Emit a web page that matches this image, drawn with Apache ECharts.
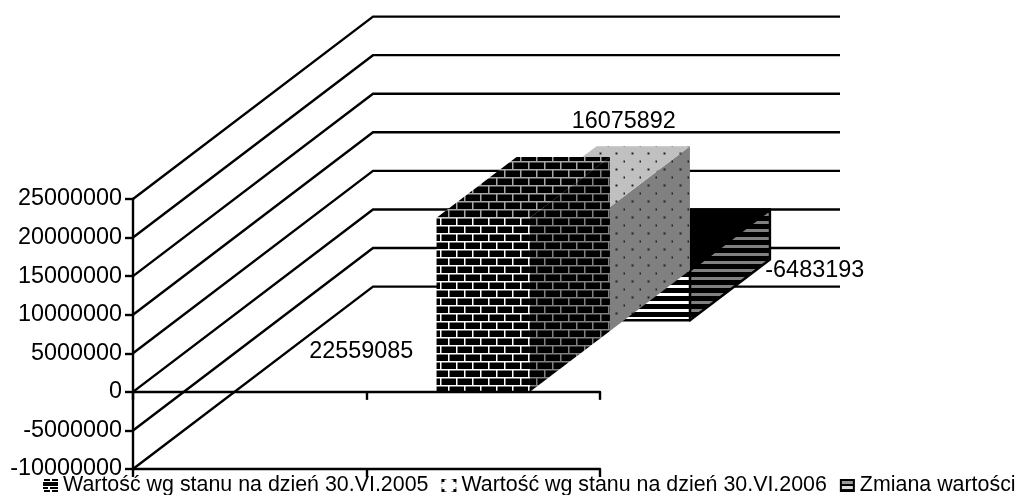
<!DOCTYPE html>
<html>
<head>
<meta charset="utf-8">
<style>html,body{margin:0;padding:0;background:#fff}#c{width:1016px;height:495px}</style>
<script src="https://cdn.jsdelivr.net/npm/echarts@6/dist/echarts.min.js"></script>
</head>
<body>
<div id="c"></div>
<script>
const categories = ['', ' '];
const seriesNames = [
  'Wartość wg stanu na dzień 30.VI.2005',
  'Wartość wg stanu na dzień 30.VI.2006',
  'Zmiana wartości'
];
const values2005 = [22559085];
const values2006 = [16075892];
const valuesChange = [-6483193];
const tickValues = [-10000000, -5000000, 0, 5000000, 10000000, 15000000, 20000000, 25000000];

const FONT = '"Liberation Sans", Arial, sans-serif';
const FS = 23.4;
const LEGEND_FS = 21.4;
const LW = 2.4;
const unitX = 80, unitY = -60.8;
const labelOffsets = [[-122, -40], [60.5, -210], [171.5, 0]];

function makeCanvas(w, h, draw) {
  const c = document.createElement('canvas');
  c.width = w; c.height = h;
  draw(c.getContext('2d'));
  return { image: c, repeat: 'repeat' };
}
function brick(mortar) {
  return makeCanvas(16, 16, g => {
    g.fillStyle = '#000'; g.fillRect(0, 0, 16, 16);
    g.fillStyle = mortar;
    g.fillRect(0, 1, 16, 1.5); g.fillRect(0, 9, 16, 1.5);
    g.fillRect(0, 1, 1.5, 8); g.fillRect(8, 9, 1.5, 7);
    g.fillRect(8, 0, 1.5, 1);
  });
}
function dots(bg) {
  return makeCanvas(16, 16, g => {
    g.fillStyle = bg; g.fillRect(0, 0, 16, 16);
    g.fillStyle = '#222';
    g.fillRect(7.5, 8.5, 2, 2); g.fillRect(15.5, 0.5, 1, 2); g.fillRect(0, 0.5, 1, 2);
  });
}
function stripes(light) {
  return makeCanvas(8, 8, g => {
    g.fillStyle = '#000'; g.fillRect(0, 0, 8, 8);
    g.fillStyle = light; g.fillRect(0, 5, 8, 3);
  });
}
const faces = [
  { front: brick('#fff'), side: brick('#808080'), top: brick('#a8a8a8'), stroke: null },
  { front: dots('#fff'), side: dots('#808080'), top: dots('#c0c0c0'), stroke: null },
  { front: stripes('#fff'), side: stripes('#808080'), top: '#000', stroke: '#000' }
];

const iconBrick = makeCanvas(15, 13, g => {
  g.fillStyle = '#fff'; g.fillRect(0, 0, 15, 13);
  g.fillStyle = '#000';
  g.fillRect(1, 0, 6, 2); g.fillRect(9, 0, 6, 2);
  g.fillRect(0, 3, 15, 4);
  g.fillRect(0, 8, 5, 2); g.fillRect(7, 8, 8, 2);
  g.fillRect(1, 11, 6, 2); g.fillRect(9, 11, 6, 2);
});
const iconDots = makeCanvas(15, 13, g => {
  g.fillStyle = '#fff'; g.fillRect(0, 0, 15, 13);
  g.fillStyle = '#000';
  [[0, 0], [12, 0], [0, 10], [12, 10]].forEach(p => g.fillRect(p[0], p[1], 3, 3));
  g.fillStyle = '#777';
  g.fillRect(3, 0, 2, 1); g.fillRect(10, 0, 2, 1); g.fillRect(0, 3, 1, 2); g.fillRect(14, 3, 1, 2);
  g.fillRect(3, 12, 2, 1); g.fillRect(10, 12, 2, 1); g.fillRect(0, 8, 1, 2); g.fillRect(14, 8, 1, 2);
});
const iconStripes = makeCanvas(15, 13, g => {
  g.fillStyle = '#000'; g.fillRect(0, 0, 15, 13);
  g.fillStyle = '#999'; g.fillRect(2, 2, 11, 3);
  g.fillStyle = '#ddd'; g.fillRect(2, 7, 11, 3);
});
const legendIcons = [iconBrick, iconDots, iconStripes];

function renderWall(params, api) {
  const cs = params.coordSys;
  const y = api.coord([0, api.value(0)])[1];
  const dx = unitX * 3, dy = unitY * 3;
  return {
    type: 'polyline',
    shape: { points: [[cs.x, y], [cs.x + dx, y + dy], [cs.x + cs.width + dx, y + dy]] },
    style: { stroke: '#000', lineWidth: LW, fill: null }
  };
}

function barRenderer(depth) {
  return function (params, api) {
    const cat = api.value(0), v = api.value(1);
    const base = api.coord([cat, 0]), end = api.coord([cat, v]);
    const bw = api.size([1, 0])[0] * 0.4;
    const ox = depth * unitX, oy = depth * unitY;
    const L = base[0] - bw / 2 + ox, R = L + bw;
    const yb = base[1] + oy, ye = end[1] + oy;
    const hi = Math.min(yb, ye), lo = Math.max(yb, ye);
    const f = faces[depth];
    const st = f.stroke ? { stroke: f.stroke, lineWidth: LW, lineJoin: 'round' } : {};
    const poly = (pts, fill) => ({ type: 'polygon', shape: { points: pts }, style: Object.assign({ fill }, st) });
    const off = labelOffsets[depth];
    return {
      type: 'group',
      children: [
        poly([[R, hi], [R + unitX, hi + unitY], [R + unitX, lo + unitY], [R, lo]], f.side),
        poly([[L, hi], [R, hi], [R + unitX, hi + unitY], [L + unitX, hi + unitY]], f.top),
        poly([[L, hi], [R, hi], [R, lo], [L, lo]], f.front),
        {
          type: 'text',
          style: {
            text: String(v), x: base[0] + ox + off[0], y: yb + off[1],
            fill: '#000', fontSize: FS, fontFamily: FONT, textAlign: 'center', textVerticalAlign: 'middle'
          }
        }
      ]
    };
  };
}

const barData = [values2005, values2006, valuesChange].map(a => a.map(v => [1, v]));

const chart = echarts.init(document.getElementById('c'), null, { renderer: 'canvas', width: 1016, height: 495 });
const catAxis = {
  type: 'category', data: categories, position: 'bottom',
  axisTick: { show: true, length: 8, alignWithLabel: false, lineStyle: { color: '#000', width: LW } },
  axisLabel: { show: false }, splitLine: { show: false }
};
chart.setOption({
  animation: false,
  backgroundColor: '#fff',
  grid: { left: 133, right: 416, top: 199, bottom: 26, containLabel: false, outerBoundsMode: 'none' },
  xAxis: [
    Object.assign({}, catAxis, { axisLine: { onZero: false, lineStyle: { color: '#000', width: LW } }, z: 10 }),
    Object.assign({}, catAxis, { axisLine: { onZero: true, onZeroAxisIndex: 0, lineStyle: { color: '#000', width: LW } }, z: 10 })
  ],
  yAxis: {
    type: 'value', min: -10000000, max: 25000000, interval: 5000000,
    axisLine: { show: true, lineStyle: { color: '#000', width: LW } },
    axisTick: { show: true, length: 8, lineStyle: { color: '#000', width: LW } },
    splitLine: { show: false },
    axisLabel: { color: '#000', fontSize: FS, fontFamily: FONT, margin: 11, hideOverlap: false, formatter: v => String(v) },
    z: 10
  },
  legend: {
    left: 43, top: 475, width: 1200, padding: 0, itemWidth: 15, itemHeight: 13, itemGap: 13, icon: 'rect',
    selectedMode: false,
    textStyle: { color: '#000', fontSize: LEGEND_FS, fontFamily: FONT },
    data: seriesNames.map((n, i) => ({ name: n, icon: 'rect', itemStyle: { color: legendIcons[i], borderWidth: 0 } }))
  },
  series: [
    { type: 'custom', name: 'walls', z: 1, silent: true, clip: false, renderItem: renderWall,
      data: tickValues.map(v => [v]), encode: { y: 0 } },
    { type: 'custom', name: seriesNames[2], z: 2, silent: true, clip: false, renderItem: barRenderer(2),
      data: barData[2], itemStyle: { color: '#000' }, encode: { x: 0, y: 1 } },
    { type: 'custom', name: seriesNames[1], z: 3, silent: true, clip: false, renderItem: barRenderer(1),
      data: barData[1], itemStyle: { color: '#808080' }, encode: { x: 0, y: 1 } },
    { type: 'custom', name: seriesNames[0], z: 4, silent: true, clip: false, renderItem: barRenderer(0),
      data: barData[0], itemStyle: { color: '#000' }, encode: { x: 0, y: 1 } }
  ]
});
</script>
</body>
</html>
